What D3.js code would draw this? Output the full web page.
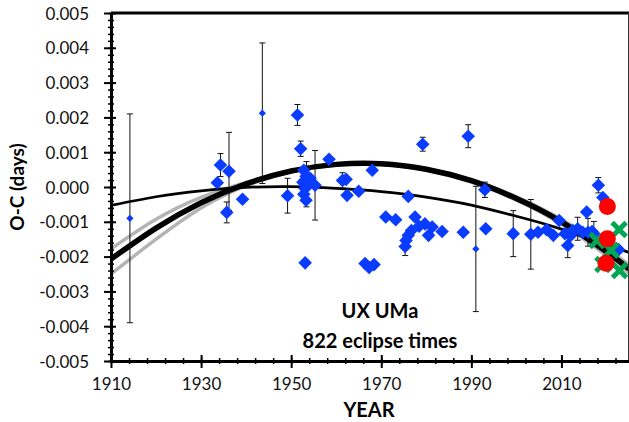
<!DOCTYPE html>
<html>
<head>
<meta charset="utf-8">
<script src="https://cdn.jsdelivr.net/npm/d3@7"></script>
<style>
body{margin:0;background:#ffffff;}
svg{display:block;font-family:Lato, "Open Sans", sans-serif;}
</style>
</head>
<body>
<div id="chart"></div>
<script>
//tick labels
var yearTicks = [1910, 1930, 1950, 1970, 1990, 2010];
var ocTicks = [-0.005, -0.004, -0.003, -0.002, -0.001, 0, 0.001, 0.002, 0.003, 0.004, 0.005];

//eclipse timings (big diamonds), O-C in days, err = 0 means no bar drawn
var obsYears = [1933.6, 1934.3, 1935.7, 1936.2, 1939.2, 1949.2, 1951.4, 1952.1,
	1952.8, 1953.3, 1952.6, 1953.1, 1952.8, 1953.3, 1954.2, 1955.3, 1953.4,
	1953.1, 1958.4, 1961.4, 1962.2, 1962.4, 1965.0, 1968.0, 1966.4, 1967.3, 1968.4,
	1976.0, 1971.0, 1973.2, 1977.5, 1978.4, 1976.7, 1976.0, 1975.5, 1975.3,
	1979.2, 1980.5, 1979.7, 1981.3, 1983.5, 1988.2, 1989.3, 1993.0, 1993.2,
	1999.3, 2003.2, 2004.8, 2006.7, 2008.2, 2009.5, 2011.4, 2010.8, 2012.0, 2012.5,
	2013.6, 2014.7, 2015.6, 2015.9, 2016.8, 2017.2, 2018.2, 2019.2, 2022.7];
var obsOC = [0.00012, 0.00063, -0.00073, 0.00045, -0.00035, -0.00025, 0.00207, 0.00110,
	0.00048, 0.00031, 0.00014, -0.00004, -0.00021, -0.00038, 0.00025, 0.00005, 0.00008,
	-0.00218, 0.00080, 0.00019, 0.00022, -0.00024, -0.00012, 0.00048, -0.00220, -0.00231, -0.00223,
	-0.00027, -0.00086, -0.00094, -0.00086, -0.00113, -0.00125, -0.00139, -0.00154, -0.00171,
	0.00123, -0.00139, -0.00106, -0.00115, -0.00128, -0.00130, 0.00146, -0.00008, -0.00120,
	-0.00134, -0.00136, -0.00130, -0.00123, -0.00139, -0.00096, -0.00168, -0.00134, -0.00140, -0.00125,
	-0.00120, -0.00130, -0.00072, -0.00130, -0.00128, -0.00134, 0.00005, -0.00030, -0.00180];
var obsErr = [0, 0.00033, 0.00030, 0.00112, 0, 0.00050, 0.00030, 0.00022,
	0, 0, 0, 0, 0, 0, 0, 0.00100, 0.00065,
	0, 0, 0.00022, 0, 0, 0, 0, 0, 0, 0,
	0, 0, 0, 0, 0, 0, 0, 0, 0.00026,
	0.00020, 0, 0, 0, 0, 0, 0.00033, 0.00022, 0,
	0.00066, 0.00100, 0, 0, 0, 0, 0.00035, 0, 0, 0,
	0.00033, 0, 0, 0.00040, 0, 0.00035, 0.00022, 0, 0];

//low weight timings (small diamonds)
var lowYears = [1914.2, 1943.6, 1991.0];
var lowOC = [-0.00090, 0.00212, -0.00178];
var lowErr = [0.00300, 0.00202, 0.00180];

//recent timings
var redYears = [2020.2, 2020.2, 2019.9];
var redOC = [-0.00056, -0.00149, -0.00219];
var greenYears = [2022.8, 2017.9, 2021.0, 2019.2, 2022.9];
var greenOC = [-0.00122, -0.00154, -0.00182, -0.00223, -0.00240];

//quadratic ephemeris fit with its band
var fitYears = [1910, 1920, 1930, 1940, 1950, 1960, 1970, 1980, 1990, 2000, 2010, 2020, 2025];
var fitOC = [-0.00207, -0.00118, -0.00045, 0.00009, 0.00046, 0.00065, 0.00067, 0.00051, 0.00018, -0.00033, -0.00100, -0.00186, -0.00235];
var fitUpper = [-0.00178, -0.00093, -0.00030, 0.00013, 0.00047, 0.00066, 0.00068, 0.00053, 0.00021, -0.00028, -0.00093, -0.00176, -0.00224];
var fitLower = [-0.00250, -0.00150, -0.00060, 0.00004, 0.00044, 0.00063, 0.00065, 0.00048, 0.00014, -0.00038, -0.00107, -0.00197, -0.00247];

//older ephemeris
var oldYears = [1910, 1920, 1930, 1940, 1950, 1960, 1970, 1980, 1990, 2000, 2010, 2025];
var oldOC = [-0.00053, -0.00028, -0.00011, -0.00001, 0.00001, -0.00004, -0.00013, -0.00029, -0.00052, -0.00084, -0.00121, -0.00188];

var W = 629, H = 422;
var plot = {left:111, right:628, top:13, bottom:361};

var svg = d3.select("#chart").append("svg").attr("width", W).attr("height", H);

var x = d3.scaleLinear().domain([1910, 2025]).range([plot.left, plot.right + 1]);
var y = d3.scaleLinear().domain([-0.005, 0.005]).range([plot.bottom, plot.top]);

var fmt = function(v){ var s = (Math.abs(v) < 1e-9 ? 0 : v).toFixed(3); return s; };

var layers = {};
layers.curves = svg.append("g");
layers.bars = svg.append("g");
layers.points = svg.append("g");
layers.top = svg.append("g");
layers.axes = svg.append("g");

//curves
var zip = function(xs, ys){ return xs.map(function(d, i){ return [d, ys[i]]; }); };
var line = d3.line().x(function(d){ return x(d[0]); }).y(function(d){ return y(d[1]); }).curve(d3.curveNatural);

layers.curves.append("path").attr("d", line(zip(fitYears, fitUpper)))
	.attr("fill", "none").attr("stroke", "#b4b4b4").attr("stroke-width", 3.5);
layers.curves.append("path").attr("d", line(zip(fitYears, fitLower)))
	.attr("fill", "none").attr("stroke", "#b4b4b4").attr("stroke-width", 3.5);
layers.curves.append("path").attr("d", line(zip(oldYears, oldOC)))
	.attr("fill", "none").attr("stroke", "#000").attr("stroke-width", 2.75);
layers.curves.append("path").attr("d", line(zip(fitYears, fitOC)))
	.attr("fill", "none").attr("stroke", "#000").attr("stroke-width", 5.5);

//error bars
var bars = zip(obsYears, obsOC).map(function(d, i){ return {t:d[0], v:d[1], e:obsErr[i]}; })
	.concat(zip(lowYears, lowOC).map(function(d, i){ return {t:d[0], v:d[1], e:lowErr[i]}; }))
	.filter(function(d){ return d.e > 0; });

var b = layers.bars.selectAll("g.bar").data(bars).enter().append("g").classed("bar", true)
	.attr("stroke", "#111").attr("stroke-width", 1);
b.append("line").attr("x1", function(d){ return x(d.t); }).attr("x2", function(d){ return x(d.t); })
	.attr("y1", function(d){ return y(d.v + d.e); }).attr("y2", function(d){ return y(d.v - d.e); });
b.append("line").attr("x1", function(d){ return x(d.t) - 3; }).attr("x2", function(d){ return x(d.t) + 3; })
	.attr("y1", function(d){ return y(d.v + d.e); }).attr("y2", function(d){ return y(d.v + d.e); });
b.append("line").attr("x1", function(d){ return x(d.t) - 3; }).attr("x2", function(d){ return x(d.t) + 3; })
	.attr("y1", function(d){ return y(d.v - d.e); }).attr("y2", function(d){ return y(d.v - d.e); });

//diamonds (square symbol turned 45 degrees)
var bigDiamond = d3.symbol().type(d3.symbolSquare).size(92);
var smallDiamond = d3.symbol().type(d3.symbolSquare).size(26);

layers.points.selectAll("path.obs").data(zip(obsYears, obsOC)).enter().append("path").classed("obs", true)
	.attr("d", bigDiamond)
	.attr("transform", function(d){ return "translate(" + x(d[0]) + "," + y(d[1]) + ") rotate(45)"; })
	.attr("fill", "#0a3cff");
layers.points.selectAll("path.low").data(zip(lowYears, lowOC)).enter().append("path").classed("low", true)
	.attr("d", smallDiamond)
	.attr("transform", function(d){ return "translate(" + x(d[0]) + "," + y(d[1]) + ") rotate(45)"; })
	.attr("fill", "#0a3cff");

//green crosses then red dots
layers.top.selectAll("path.cross").data(zip(greenYears, greenOC)).enter().append("path").classed("cross", true)
	.attr("d", "M-7,-7L7,7M-7,7L7,-7")
	.attr("transform", function(d){ return "translate(" + x(d[0]) + "," + y(d[1]) + ")"; })
	.attr("stroke", "#00a651").attr("stroke-width", 5).attr("fill", "none");
layers.top.selectAll("circle.red").data(zip(redYears, redOC)).enter().append("circle").classed("red", true)
	.attr("cx", function(d){ return x(d[0]); }).attr("cy", function(d){ return y(d[1]); })
	.attr("r", 8.5).attr("fill", "#ff0000");

//frame: thick top, thin right
layers.axes.append("line").attr("x1", plot.left).attr("x2", plot.right + 1).attr("y1", plot.top).attr("y2", plot.top)
	.attr("stroke", "#000").attr("stroke-width", 3);
layers.axes.append("line").attr("x1", plot.right + 0.5).attr("x2", plot.right + 0.5).attr("y1", plot.top).attr("y2", plot.bottom)
	.attr("stroke", "#333").attr("stroke-width", 1);

//minor ticks
var minorY = d3.axisLeft(y).tickValues(d3.range(-50, 51, 2).map(function(d){ return d / 10000; })).tickSize(3).tickFormat("");
var gmy = layers.axes.append("g").attr("transform", "translate(" + plot.left + ",0)").call(minorY);
gmy.selectAll(".tick line").attr("x2", -3).attr("x1", 3).attr("stroke-width", 1.5);
var minorX = d3.axisBottom(x).tickValues(d3.range(1910, 2025, 4)).tickSize(3).tickFormat("");
var gmx = layers.axes.append("g").attr("transform", "translate(0," + plot.bottom + ")").call(minorX);
gmx.selectAll(".tick line").attr("y1", -3).attr("y2", 3).attr("stroke-width", 1.5);

//major axes
var yAxis = d3.axisLeft(y).tickValues(ocTicks).tickFormat(fmt).tickSizeOuter(0).tickSizeInner(7).tickPadding(15);
var gy = layers.axes.append("g").attr("transform", "translate(" + plot.left + ",0)").call(yAxis);
gy.selectAll(".tick line").attr("x1", 5).attr("stroke-width", 2);
gy.select(".domain").attr("stroke-width", 3);

var xAxis = d3.axisBottom(x).tickValues(yearTicks).tickFormat(d3.format("d")).tickSizeOuter(0).tickSizeInner(7).tickPadding(10);
var gx = layers.axes.append("g").attr("transform", "translate(0," + plot.bottom + ")").call(xAxis);
gx.selectAll(".tick line").attr("y1", -6).attr("stroke-width", 2);
gx.select(".domain").attr("stroke-width", 3);

svg.selectAll(".tick text").attr("font-family", "Lato, 'Open Sans', sans-serif").attr("font-size", 17).attr("fill", "#111");
gy.selectAll(".tick text").attr("dy", "0.36em");

//titles
svg.append("text").attr("x", 369).attr("y", 417).attr("text-anchor", "middle")
	.attr("font-weight", "bold").attr("font-size", 20).text("YEAR");
svg.append("text").attr("transform", "translate(24," + y(0) + ") rotate(-90)").attr("text-anchor", "middle")
	.attr("font-weight", "bold").attr("font-size", 19).text("O-C (days)");

//annotation
svg.append("text").attr("x", 380).attr("y", 318).attr("text-anchor", "middle")
	.attr("font-weight", "bold").attr("font-size", 20).text("UX UMa");
svg.append("text").attr("x", 380).attr("y", 348).attr("text-anchor", "middle")
	.attr("font-weight", "bold").attr("font-size", 20).text("822 eclipse times");
</script>
</body>
</html>
